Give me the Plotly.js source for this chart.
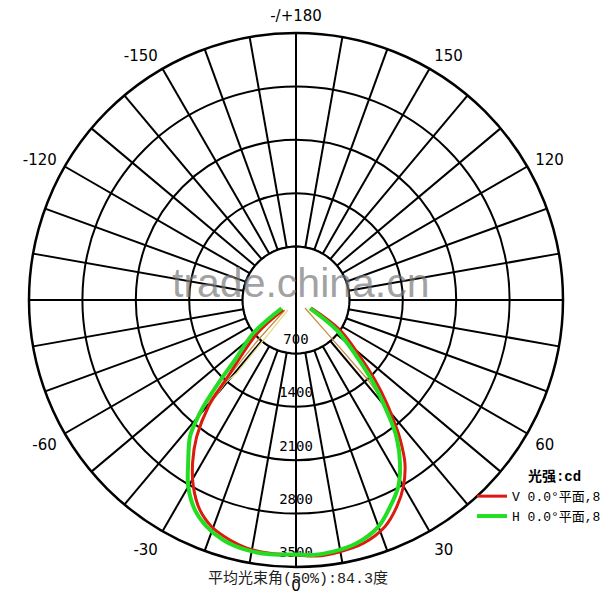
<!DOCTYPE html>
<html>
<head>
<meta charset="utf-8">
<script src="https://cdn.plot.ly/plotly-3.0.1.min.js"></script>
<style>html,body{margin:0;padding:0;background:#fff;}#chart{width:600px;height:600px;}</style>
</head>
<body>
<div id="chart"></div>
<script>
// ---- data (cd vs. angle, 0° = straight down) ----
const radialTicks = [700, 1400, 2100, 2800, 3500];
const radialTickText = ['700', '1400', '2100', '2800', '3500'];
const angleTickVals = [0, 30, 60, 90, 120, 150, 180, 210, 240, 270, 300, 330];
const angleTickText = ['0', '30', '60', '', '120', '150', '-/+180', '-150', '-120', '', '-60', '-30'];

const vName = 'V 0.0°平面,84.6°';
const vTheta = [-52.4, -49.3, -41.5, -39.4, -36.0, -32.4, -28.8, -24.6, -20.4, -15.4, -11.2, -5.9, 0, 4.6, 9.9, 15.5, 21.4, 26.0, 29.9, 33.7, 36.9, 38.3, 41.3, 44.6, 48.5, 55.7, 62];
const vR = [212, 669, 1371, 1810, 2215, 2530, 2793, 3027, 3171, 3263, 3315, 3338, 3343, 3367, 3349, 3309, 3192, 3014, 2823, 2574, 2268, 2116, 1802, 1474, 1121, 698, 223];

const hName = 'H 0.0°平面,84.0°';
const hTheta = [-59.9, -52.1, -45.5, -43.5, -41.0, -39.3, -37.8, -33.5, -30.0, -25.7, -21.5, -16.9, -11.2, -5.8, 0, 3.9, 8.4, 14.0, 20.0, 24.5, 28.7, 32.5, 36.1, 37.5, 40.2, 43.4, 47.0, 53.6, 59.3];
const hR = [217, 710, 1122, 1415, 1853, 2089, 2268, 2561, 2825, 3055, 3194, 3287, 3340, 3351, 3335, 3350, 3335, 3287, 3161, 2977, 2791, 2538, 2243, 2094, 1773, 1444, 1089, 663, 213];

const c1Theta = [-47.7, -43.5, -41.4, -40.7, -39.4, -36, -32.4, -28.8, -24.6, -20.4, -15.4, -11.2, -5.9, 0, 3.9, 8.4, 14, 20, 24.5, 28.7, 32.5, 36.1, 37.5, 40.9, 42.0, 42.8, 48.4];
const c1R = [195, 723, 1346, 1729, 1810, 2215, 2530, 2793, 3027, 3171, 3263, 3315, 3338, 3340, 3345, 3335, 3287, 3161, 2977, 2791, 2538, 2243, 2094, 1682, 1411, 714, 158];

const c2Theta = [-38.7, -39.1, -40.5, -39.4];
const c2R = [168, 1233, 1432, 1810];

const innerR = 700;
const maxR = 3500;
const beamText = '平均光束角(50%):84.3度';
const legendTitle = '<b>光强:cd</b>';
const watermark = 'trade.china.cn';

// ---- build ----
const labelLift = 80; // move radial labels slightly towards the centre
const discTheta = [], discR = [];
for (let a = 0; a <= 360; a += 5) { discTheta.push(a); discR.push(innerR); }

const traces = [
  { type: 'scatterpolar', mode: 'lines', r: discR, theta: discTheta, fill: 'toself',
    fillcolor: 'white', line: { color: 'black', width: 2 }, showlegend: false, hoverinfo: 'skip' },
  { type: 'scatterpolar', mode: 'lines', r: [innerR, 0, innerR], theta: [0, 0, 180],
    line: { color: 'black', width: 2 }, showlegend: false, hoverinfo: 'skip' },
  { type: 'scatterpolar', mode: 'text', r: radialTicks.map(v => v - labelLift), theta: radialTicks.map(() => 0),
    text: radialTickText, textposition: 'top center', cliponaxis: false,
    textfont: { family: 'DejaVu Sans Mono', size: 14, color: 'black' }, showlegend: false, hoverinfo: 'skip' },
  { type: 'scatterpolar', mode: 'lines', r: c1R, theta: c1Theta,
    line: { color: '#c98a3a', width: 1.2 }, showlegend: false },
  { type: 'scatterpolar', mode: 'lines', r: c2R, theta: c2Theta,
    line: { color: '#e6dc8a', width: 1.2 }, showlegend: false },
  { type: 'scatterpolar', mode: 'lines', name: vName, r: vR, theta: vTheta,
    line: { color: '#dd1a10', width: 3, shape: 'spline' } },
  { type: 'scatterpolar', mode: 'lines', name: hName, r: hR, theta: hTheta,
    line: { color: '#22dd22', width: 4, shape: 'spline' } }
];

// angular grid every 10 degrees, labels only where text given
const gridVals = [], gridText = [];
for (let a = 0; a < 360; a += 10) {
  gridVals.push(a);
  const i = angleTickVals.indexOf(a);
  gridText.push(i >= 0 ? angleTickText[i] : '');
}

const layout = {
  width: 600, height: 600,
  margin: { l: 0, r: 0, t: 0, b: 0, autoexpand: false },
  paper_bgcolor: 'white',
  showlegend: true,
  polar: {
    domain: { x: [29 / 600, 563 / 600], y: [33 / 600, 567 / 600] },
    bgcolor: 'white',
    angularaxis: {
      rotation: 270, direction: 'counterclockwise',
      tickmode: 'array', tickvals: gridVals, ticktext: gridText,
      ticks: 'outside', ticklen: 5, tickcolor: 'rgba(0,0,0,0)',
      showgrid: true, gridcolor: 'black', gridwidth: 2,
      showline: true, linecolor: 'black', linewidth: 2.5,
      tickfont: { family: 'DejaVu Sans', size: 15, color: 'black' }
    },
    radialaxis: {
      range: [0, maxR], tickmode: 'array', tickvals: radialTicks,
      showticklabels: false, ticks: '', showline: false,
      gridcolor: 'black', gridwidth: 2
    }
  },
  legend: {
    x: 472 / 600, xanchor: 'left', y: 1 - 463 / 600, yanchor: 'top',
    bgcolor: 'rgba(0,0,0,0)', itemwidth: 30,
    font: { family: 'Liberation Mono, Noto Sans CJK SC', size: 13, color: 'black' },
    title: { text: legendTitle, side: 'top center',
      font: { family: 'Liberation Mono, Noto Sans CJK SC', size: 14, color: 'black' } }
  },
  annotations: [
    { text: beamText, xref: 'paper', yref: 'paper', x: 298 / 600, y: 1 - 590 / 600,
      showarrow: false, font: { family: 'Liberation Mono, Noto Sans CJK SC', size: 15, color: '#222' } },
    { text: watermark, xref: 'paper', yref: 'paper', x: 301 / 600, y: 1 - 283 / 600,
      showarrow: false, font: { family: 'Liberation Sans, Arial', size: 41, color: 'rgba(120,120,120,0.7)' } }
  ]
};

Plotly.newPlot('chart', traces, layout, { staticPlot: true, displayModeBar: false });
</script>
</body>
</html>
